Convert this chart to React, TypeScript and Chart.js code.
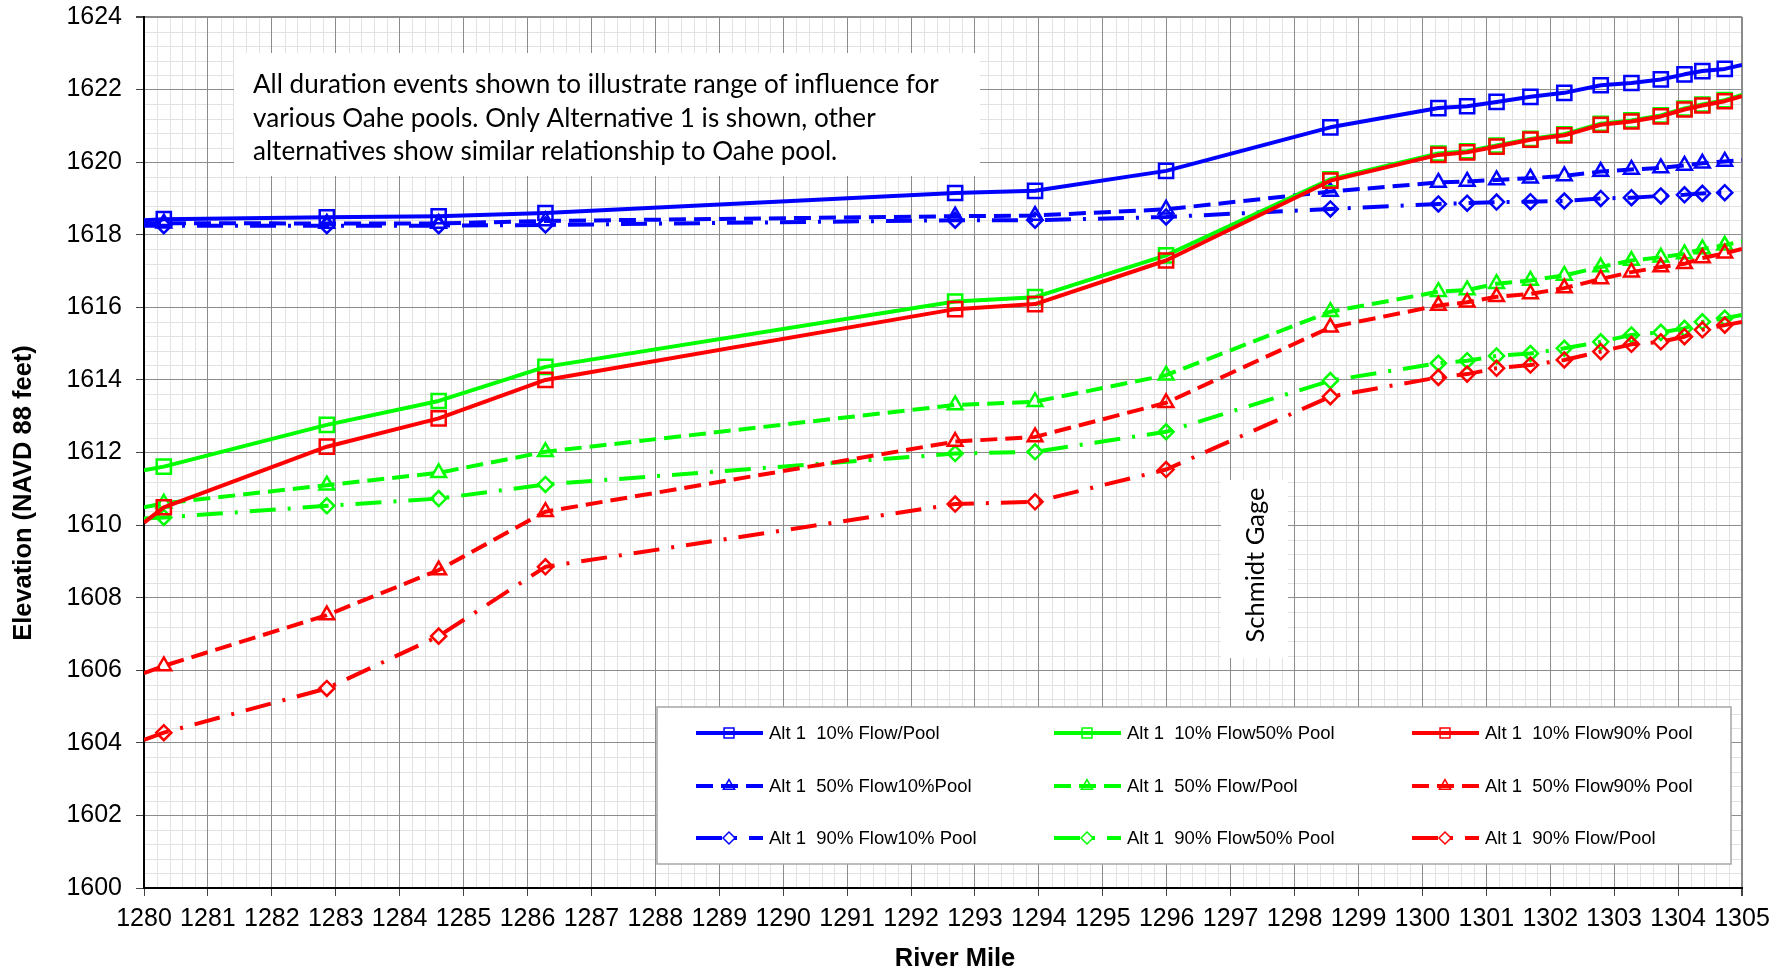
import React, { useEffect, useRef } from "react";
import { Chart, registerables } from "chart.js";

Chart.register(...registerables);

// ---------- data ----------
const riverMiles = [
  1280, 1280.31, 1282.86, 1284.61, 1286.28, 1292.69, 1293.94, 1295.99, 1298.56,
  1300.25, 1300.7, 1301.16, 1301.69, 1302.22, 1302.79, 1303.27, 1303.73, 1304.1,
  1304.38, 1304.73, 1305,
];

const blue10Flow10Pool = [
  1618.4, 1618.43, 1618.48, 1618.51, 1618.6, 1619.15, 1619.21, 1619.76, 1620.96,
  1621.49, 1621.54, 1621.66, 1621.8, 1621.91, 1622.12, 1622.18, 1622.28, 1622.42,
  1622.51, 1622.57, 1622.68,
];
const blue50Flow10Pool = [
  1618.3, 1618.32, 1618.31, 1618.31, 1618.38, 1618.51, 1618.53, 1618.7, 1619.19,
  1619.44, 1619.47, 1619.51, 1619.56, 1619.62, 1619.74, 1619.8, 1619.84, 1619.91,
  1619.97, 1620.02, 1620.06,
];
const blue90Flow10Pool = [
  1618.25, 1618.25, 1618.25, 1618.25, 1618.27, 1618.4, 1618.4, 1618.49, 1618.71,
  1618.85, 1618.87, 1618.9, 1618.91, 1618.93, 1619.0, 1619.02, 1619.07, 1619.1,
  1619.14, 1619.16, null,
];
const green10Flow50Pool = [
  1611.51, 1611.61, 1612.76, 1613.42, 1614.36, 1616.16, 1616.28, 1617.43, 1619.53,
  1620.24, 1620.3, 1620.46, 1620.64, 1620.77, 1621.06, 1621.15, 1621.29, 1621.48,
  1621.59, 1621.71, 1621.85,
];
const green50Flow50Pool = [
  1610.49, 1610.6, 1611.1, 1611.44, 1612.02, 1613.31, 1613.4, 1614.13, 1615.88,
  1616.43, 1616.48, 1616.65, 1616.74, 1616.88, 1617.11, 1617.29, 1617.38, 1617.47,
  1617.61, 1617.71, 1617.82,
];
const green90Flow50Pool = [
  1610.18, 1610.21, 1610.53, 1610.73, 1611.12, 1611.97, 1612.02, 1612.57, 1613.98,
  1614.46, 1614.53, 1614.66, 1614.73, 1614.87, 1615.05, 1615.24, 1615.31, 1615.42,
  1615.6, 1615.7, 1615.79,
];
const red10Flow90Pool = [
  1610.07, 1610.49, 1612.16, 1612.94, 1614.0, 1615.95, 1616.09, 1617.29, 1619.49,
  1620.2, 1620.27, 1620.43, 1620.62, 1620.74, 1621.03, 1621.12, 1621.26, 1621.45,
  1621.56, 1621.68, 1621.82,
];
const red50Flow90Pool = [
  1605.92, 1606.12, 1607.52, 1608.76, 1610.37, 1612.3, 1612.43, 1613.37, 1615.45,
  1616.05, 1616.14, 1616.29, 1616.37, 1616.53, 1616.78, 1616.97, 1617.11, 1617.2,
  1617.36, 1617.49, 1617.61,
];
const red90Flow90Pool = [
  1604.08, 1604.28, 1605.5, 1606.94, 1608.85, 1610.58, 1610.64, 1611.53, 1613.54,
  1614.07, 1614.16, 1614.32, 1614.41, 1614.55, 1614.78, 1614.98, 1615.05, 1615.19,
  1615.38, 1615.51, 1615.6,
];

const seriesLabels = [
  "Alt 1  10% Flow/Pool",
  "Alt 1  50% Flow10%Pool",
  "Alt 1  90% Flow10% Pool",
  "Alt 1  10% Flow50% Pool",
  "Alt 1  50% Flow/Pool",
  "Alt 1  90% Flow50% Pool",
  "Alt 1  10% Flow90% Pool",
  "Alt 1  50% Flow90% Pool",
  "Alt 1  90% Flow/Pool",
];

const xMin = 1280;
const xMax = 1305;
const xMajorStep = 1;
const yMin = 1600;
const yMax = 1624;
const yMajorStep = 2;

const xTitle = "River Mile";
const yTitle = "Elevation (NAVD 88 feet)";
const noteLines = [
  "All duration events shown to illustrate range of influence for",
  "various Oahe pools. Only Alternative 1 is shown, other",
  "alternatives show similar relationship to Oahe pool.",
];
const gageLabel = "Schmidt Gage";

// ---------- styles ----------
const BLUE = "#0000FF";
const GREEN = "#00FF00";
const RED = "#FF0000";
const SOLID: number[] = [];
const DASH = [17, 8];
const DASH_DOT = [26, 12, 3, 12];
const MAJOR_GRID = "#8c8c8c";
const MINOR_GRID = "#e2e2e2";
const TICK_FONT = "'Liberation Sans', Arial, sans-serif";
const NOTE_FONT = "Lato, 'Open Sans', sans-serif";

type Marker = "rect" | "triangle" | "rectRot";
const seriesValues = [
  blue10Flow10Pool, blue50Flow10Pool, blue90Flow10Pool,
  green10Flow50Pool, green50Flow50Pool, green90Flow50Pool,
  red10Flow90Pool, red50Flow90Pool, red90Flow90Pool,
];
const seriesColors = [BLUE, BLUE, BLUE, GREEN, GREEN, GREEN, RED, RED, RED];
const seriesDashes = [SOLID, DASH, DASH_DOT, SOLID, DASH, DASH_DOT, SOLID, DASH, DASH_DOT];
const seriesMarkers: Marker[] = ["rect", "triangle", "rectRot", "rect", "triangle", "rectRot", "rect", "triangle", "rectRot"];
const markerRadius: Record<Marker, number> = { rect: 10, triangle: 8.5, rectRot: 7.5 };
const legendMarkerRadius: Record<Marker, number> = { rect: 7, triangle: 6.5, rectRot: 6 };

function drawMarker(ctx: CanvasRenderingContext2D, m: Marker, x: number, y: number, r: number) {
  ctx.beginPath();
  if (m === "rect") {
    const s = r * Math.SQRT1_2;
    ctx.rect(x - s, y - s, 2 * s, 2 * s);
  } else if (m === "triangle") {
    let a = 0;
    ctx.moveTo(x + Math.sin(a) * r, y - Math.cos(a) * r);
    a += (2 * Math.PI) / 3;
    ctx.lineTo(x + Math.sin(a) * r, y - Math.cos(a) * r);
    a += (2 * Math.PI) / 3;
    ctx.lineTo(x + Math.sin(a) * r, y - Math.cos(a) * r);
    ctx.closePath();
  } else {
    ctx.moveTo(x - r, y);
    ctx.lineTo(x, y - r);
    ctx.lineTo(x + r, y);
    ctx.lineTo(x, y + r);
    ctx.closePath();
  }
  ctx.stroke();
}

function fitSize(ctx: CanvasRenderingContext2D, text: string, family: string, weight: string, target: number) {
  const base = 40;
  ctx.font = `${weight} ${base}px ${family}`;
  const w = ctx.measureText(text).width;
  return (base * target) / w;
}

const decorPlugin = {
  id: "decor",
  beforeDraw(chart: any) {
    const { ctx, chartArea: a, scales } = chart;
    const xs = scales.x;
    const ys = scales.y;
    ctx.save();
    ctx.fillStyle = "#ffffff";
    ctx.fillRect(0, 0, chart.width, chart.height);
    ctx.strokeStyle = MINOR_GRID;
    ctx.lineWidth = 1;
    ctx.beginPath();
    const xCount = ((xMax - xMin) / xMajorStep) * 5;
    for (let i = 0; i <= xCount; i++) {
      if (i % 5 === 0) continue;
      const px = Math.round(xs.getPixelForValue(xMin + (i * xMajorStep) / 5)) + 0.5;
      ctx.moveTo(px, a.top);
      ctx.lineTo(px, a.bottom);
    }
    const yCount = ((yMax - yMin) / yMajorStep) * 5;
    for (let i = 0; i <= yCount; i++) {
      if (i % 5 === 0) continue;
      const py = Math.round(ys.getPixelForValue(yMin + (i * yMajorStep) / 5)) + 0.5;
      ctx.moveTo(a.left, py);
      ctx.lineTo(a.right, py);
    }
    ctx.stroke();
    ctx.restore();
  },
  afterDraw(chart: any) {
    const ctx: CanvasRenderingContext2D = chart.ctx;
    ctx.save();

    // note box
    ctx.fillStyle = "#ffffff";
    ctx.fillRect(234, 53, 746, 123);
    const ns = fitSize(ctx, noteLines[0], NOTE_FONT, "", 686);
    ctx.font = `${ns}px ${NOTE_FONT}`;
    ctx.fillStyle = "#000";
    ctx.textAlign = "left";
    ctx.textBaseline = "middle";
    noteLines.forEach((t, i) => ctx.fillText(t, 253, 85 + i * 33.5));

    // gage label
    ctx.fillStyle = "#ffffff";
    ctx.fillRect(1221, 480, 67, 178);
    const gs = fitSize(ctx, gageLabel, NOTE_FONT, "", 155);
    ctx.save();
    ctx.translate(1256, 565);
    ctx.rotate(-Math.PI / 2);
    ctx.font = `${gs}px ${NOTE_FONT}`;
    ctx.fillStyle = "#000";
    ctx.textAlign = "center";
    ctx.textBaseline = "middle";
    ctx.fillText(gageLabel, 0, 0);
    ctx.restore();

    // legend
    ctx.fillStyle = "#ffffff";
    ctx.fillRect(657, 707, 1074, 157);
    ctx.strokeStyle = "#a6a6a6";
    ctx.lineWidth = 1.5;
    ctx.strokeRect(657, 707, 1074, 157);
    const colX = [696, 1054, 1412];
    const rowY = [733, 786, 838];
    ctx.font = `18.5px ${TICK_FONT}`;
    ctx.textBaseline = "middle";
    ctx.textAlign = "left";
    for (let i = 0; i < seriesLabels.length; i++) {
      const col = Math.floor(i / 3);
      const row = i % 3;
      const x0 = colX[col];
      const y0 = rowY[row];
      ctx.strokeStyle = seriesColors[i];
      ctx.lineWidth = 4;
      ctx.setLineDash(seriesDashes[i]);
      ctx.beginPath();
      ctx.moveTo(x0, y0);
      ctx.lineTo(x0 + 67, y0);
      ctx.stroke();
      ctx.setLineDash([]);
      ctx.lineWidth = 1.5;
      drawMarker(ctx, seriesMarkers[i], x0 + 33, y0, legendMarkerRadius[seriesMarkers[i]]);
      ctx.fillStyle = "#000";
      ctx.fillText(seriesLabels[i], x0 + 73, y0 + 1);
    }

    // axis titles
    ctx.fillStyle = "#000";
    ctx.font = `bold 25.5px ${TICK_FONT}`;
    ctx.textAlign = "center";
    ctx.textBaseline = "middle";
    ctx.fillText(xTitle, 955, 959);
    ctx.save();
    ctx.translate(24, 493);
    ctx.rotate(-Math.PI / 2);
    ctx.fillText(yTitle, 0, 0);
    ctx.restore();

    ctx.restore();
  },
};

export default function App() {
  const ref = useRef<HTMLCanvasElement | null>(null);
  useEffect(() => {
    document.body.style.margin = "0";
    const canvas = ref.current;
    if (!canvas) return;
    const last = riverMiles.length - 1;
    const datasets = seriesValues.map((vals, i) => ({
      label: seriesLabels[i],
      data: riverMiles.map((m, j) => ({ x: m, y: vals[j] })),
      borderColor: seriesColors[i],
      backgroundColor: "rgba(0,0,0,0)",
      borderWidth: 4,
      borderDash: seriesDashes[i],
      borderJoinStyle: "round" as const,
      tension: 0,
      pointStyle: seriesMarkers[i],
      pointRadius: (c: any) => (c.dataIndex === 0 || c.dataIndex === last ? 0 : markerRadius[seriesMarkers[i]]),
      pointBorderColor: seriesColors[i],
      pointBackgroundColor: "rgba(0,0,0,0)",
      pointBorderWidth: 2.5,
      order: -i,
    }));
    const chart = new Chart(canvas, {
      type: "line",
      data: { datasets },
      plugins: [decorPlugin],
      options: {
        animation: false,
        responsive: false,
        devicePixelRatio: 1,
        events: [],
        layout: { padding: { left: 0, top: 17, right: 45, bottom: 0 } },
        plugins: { legend: { display: false }, tooltip: { enabled: false }, title: { display: false } },
        scales: {
          x: {
            type: "linear",
            min: xMin,
            max: xMax,
            afterFit: (s: any) => { s.height = 84; s.paddingLeft = 0; s.paddingRight = 0; },
            ticks: {
              stepSize: xMajorStep,
              autoSkip: false,
              maxRotation: 0,
              minRotation: 0,
              padding: 8,
              color: "#000",
              font: { family: TICK_FONT, size: 25 },
              callback: (v: any) => String(v),
            },
            grid: {
              color: MAJOR_GRID,
              lineWidth: (c: any) => (c.tick && c.tick.value === xMax ? 2 : 1),
              tickLength: 8,
              tickColor: "#444",
            },
            border: { color: "#000", width: 2 },
          },
          y: {
            type: "linear",
            min: yMin,
            max: yMax,
            afterFit: (s: any) => { s.width = 144; s.paddingTop = 0; s.paddingBottom = 0; },
            ticks: {
              stepSize: yMajorStep,
              autoSkip: false,
              padding: 14,
              color: "#000",
              font: { family: TICK_FONT, size: 25 },
              callback: (v: any) => String(v),
            },
            grid: {
              color: MAJOR_GRID,
              lineWidth: (c: any) => (c.tick && c.tick.value === yMax ? 2 : 1),
              tickLength: 8,
              tickColor: "#444",
            },
            border: { color: "#000", width: 2 },
          },
        },
      },
    } as any);
    return () => chart.destroy();
  }, []);
  return (
    <div style={{ width: 1787, height: 972, background: "#fff" }}>
      <canvas ref={ref} width={1787} height={972} style={{ display: "block" }} />
    </div>
  );
}
